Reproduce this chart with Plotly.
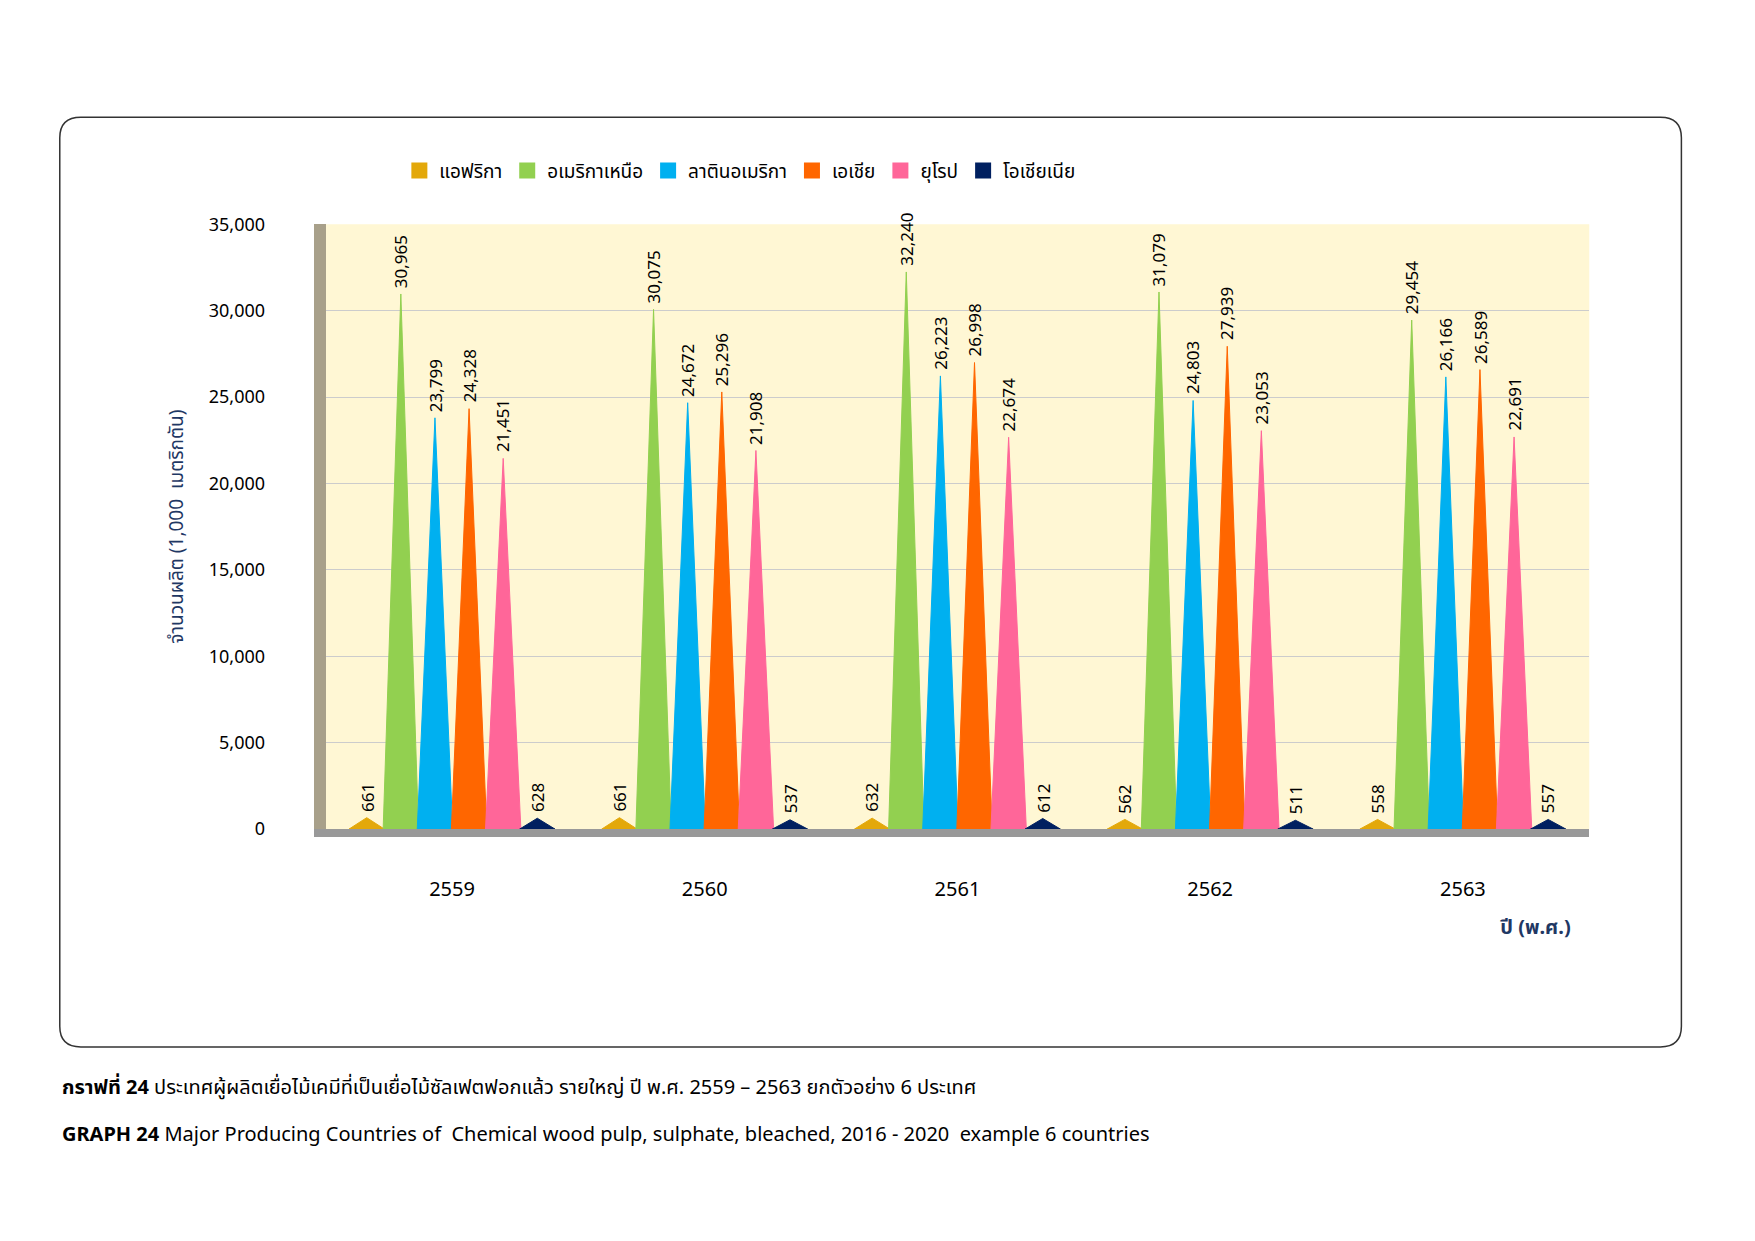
import plotly.graph_objects as go

years = ["2559", "2560", "2561", "2562", "2563"]
series_names = ["แอฟริกา", "อเมริกาเหนือ", "ลาตินอเมริกา", "เอเชีย", "ยุโรป", "โอเชียเนีย"]
africa = [661, 661, 632, 562, 558]
north_america = [30965, 30075, 32240, 31079, 29454]
latin_america = [23799, 24672, 26223, 24803, 26166]
asia = [24328, 25296, 26998, 27939, 26589]
europe = [21451, 21908, 22674, 23053, 22691]
oceania = [628, 537, 612, 511, 557]
colors = ["#E3A80A", "#92D050", "#00B0F0", "#FF6600", "#FF6699", "#002060"]
y_ticks = [0, 5000, 10000, 15000, 20000, 25000, 30000, 35000]

all_series = [africa, north_america, latin_america, asia, europe, oceania]
fig = go.Figure()
w = 0.07
step = 0.135
annotations = []
for j, (name, vals, c) in enumerate(zip(series_names, all_series, colors)):
    xs, ys = [], []
    for i, v in enumerate(vals):
        cx = i + (j - 2.5) * step
        xs += [cx - w, cx, cx + w, cx - w, None]
        ys += [0, v, 0, 0, None]
        annotations.append(dict(x=cx, y=v, text=f"{v:,}", textangle=-90, showarrow=False,
                                xanchor="center", yanchor="bottom", yshift=4,
                                font=dict(size=17, color="#000")))
    fig.add_trace(go.Scatter(x=xs, y=ys, fill="toself", fillcolor=c, mode="lines",
                             line=dict(color=c, width=1), name=name, hoverinfo="skip",
                             showlegend=False))
    fig.add_trace(go.Scatter(x=[None], y=[None], mode="markers", name=name,
                             marker=dict(symbol="square", size=16, color=c)))

x0, x1, y0, y1, r = 0.0295, 0.9535, 0.157, 0.921, 0.012
ry = r * 1755 / 1241
path = (f"M {x0+r},{y0} L {x1-r},{y0} Q {x1},{y0} {x1},{y0+ry} L {x1},{y1-ry} "
        f"Q {x1},{y1} {x1-r},{y1} L {x0+r},{y1} Q {x0},{y1} {x0},{y1-ry} "
        f"L {x0},{y0+ry} Q {x0},{y0} {x0+r},{y0} Z")

fig.update_layout(
    width=1755, height=1241, paper_bgcolor="white", plot_bgcolor="#FFF7D4",
    margin=dict(l=0, r=0, t=0, b=0),
    font=dict(family="Noto Sans, Noto Sans Thai, sans-serif", size=17, color="#000"),
    xaxis=dict(domain=[0.181, 0.901], range=[-0.5, 4.5], tickmode="array",
               tickvals=list(range(5)), ticktext=years, showgrid=False, zeroline=False,
               tickfont=dict(size=20), ticks="outside", ticklen=35, tickcolor="rgba(0,0,0,0)",
               showline=True, linecolor="#999", linewidth=8),
    yaxis=dict(domain=[0.336, 0.833], range=[0, 35000], tickvals=y_ticks, tickformat=",",
               showgrid=True, gridcolor="#CCCCCC", zeroline=False, tickfont=dict(size=18),
               ticks="outside", ticklen=45, tickcolor="rgba(0,0,0,0)",
               showline=True, linecolor="#A8A08A", linewidth=12,
               title=dict(text="จำนวนผลิต (1,000  เมตริกตัน)", font=dict(size=19, color="#1F3864"), standoff=25)),
    legend=dict(orientation="h", x=0.223, y=0.877, xanchor="left", yanchor="middle",
                font=dict(size=19), bgcolor="rgba(0,0,0,0)", itemwidth=30),
    shapes=[dict(type="path", path=path, xref="paper", yref="paper",
                 line=dict(color="#333", width=1.5), layer="below")],
    annotations=annotations + [
        dict(xref="paper", yref="paper", x=0.892, y=0.243, text="<b>ปี (พ.ศ.)</b>", showarrow=False,
             font=dict(size=20, color="#1F3864")),
        dict(xref="paper", yref="paper", x=0.0295, y=0.112, xanchor="left", showarrow=False,
             text="<b>กราฟที่ 24</b> ประเทศผู้ผลิตเยื่อไม้เคมีที่เป็นเยื่อไม้ซัลเฟตฟอกแล้ว รายใหญ่ ปี พ.ศ. 2559 – 2563 ยกตัวอย่าง 6 ประเทศ",
             font=dict(size=20)),
        dict(xref="paper", yref="paper", x=0.0295, y=0.073, xanchor="left", showarrow=False,
             text="<b>GRAPH 24</b> Major Producing Countries of  Chemical wood pulp, sulphate, bleached, 2016 - 2020  example 6 countries",
             font=dict(size=20)),
    ],
)
fig.write_html("out.html")
